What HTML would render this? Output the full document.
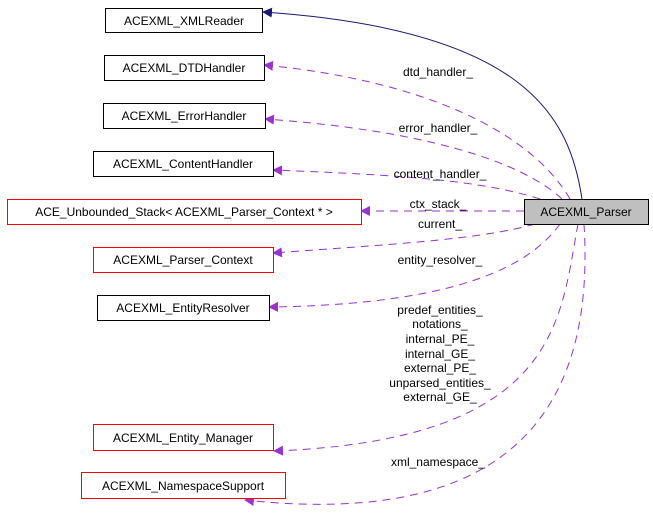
<!DOCTYPE html>
<html><head><meta charset="utf-8"><style>
html,body{margin:0;padding:0;background:#fff;}
svg text{font-family:"Liberation Sans",sans-serif;font-size:12px;fill:#000;}
</style></head><body>
<svg width="653" height="527" viewBox="0 0 653 527" xmlns="http://www.w3.org/2000/svg">
<defs>
<marker id="p" markerWidth="10" markerHeight="10" refX="9" refY="5" orient="auto" markerUnits="userSpaceOnUse"><path d="M0,0 L10,5 L0,10 z" fill="#9a32cd"/></marker>
<marker id="n" markerWidth="10" markerHeight="10" refX="9" refY="5" orient="auto" markerUnits="userSpaceOnUse"><path d="M0,0 L10,5 L0,10 z" fill="#191970"/></marker>
</defs>
<g fill="none" stroke="#9a32cd" stroke-dasharray="8,6" stroke-width="1">
<path d="M570,199 C530,130 420,80 264,65" marker-end="url(#p)"/>
<path d="M562,199 C520,160 420,130 265,119" marker-end="url(#p)"/>
<path d="M540,199 C480,180 400,175 273,170" marker-end="url(#p)"/>
<path d="M524,211 L361,211" marker-end="url(#p)"/>
<path d="M535,224 C480,240 380,245 273,253" marker-end="url(#p)"/>
<path d="M560,224 C520,280 420,305 269,307" marker-end="url(#p)"/>
<path d="M578,224 C560,320 560,440 274,451" marker-end="url(#p)"/>
<path d="M584,224 C595,400 520,530 245,500" marker-end="url(#p)"/>
</g>
<path d="M582,199 C570,120 530,30 263,12" fill="none" stroke="#191970" marker-end="url(#n)"/>
<g stroke-width="1">
<rect x="105.5" y="8.5" width="157" height="24" fill="#fff" stroke="#000"/>
<rect x="104.5" y="55.5" width="160" height="25" fill="#fff" stroke="#000"/>
<rect x="103.5" y="103.5" width="162" height="25" fill="#fff" stroke="#000"/>
<rect x="93.5" y="151.5" width="180" height="25" fill="#fff" stroke="#000"/>
<rect x="7.5" y="199.5" width="354" height="25" fill="#fff" stroke="#f00"/>
<rect x="524.5" y="199.5" width="124" height="25" fill="#bfbfbf" stroke="#000"/>
<rect x="93.5" y="247.5" width="180" height="25" fill="#fff" stroke="#f00"/>
<rect x="97.5" y="295.5" width="172" height="25" fill="#fff" stroke="#000"/>
<rect x="93.5" y="424.5" width="180" height="26" fill="#fff" stroke="#f00"/>
<rect x="81.5" y="472.5" width="204" height="26" fill="#fff" stroke="#f00"/>
</g>
<g text-anchor="middle">
<text x="184" y="25">ACEXML_XMLReader</text>
<text x="184" y="72">ACEXML_DTDHandler</text>
<text x="184" y="120">ACEXML_ErrorHandler</text>
<text x="183" y="168">ACEXML_ContentHandler</text>
<text x="184" y="216">ACE_Unbounded_Stack&lt; ACEXML_Parser_Context * &gt;</text>
<text x="586" y="216">ACEXML_Parser</text>
<text x="183" y="264">ACEXML_Parser_Context</text>
<text x="183" y="312">ACEXML_EntityResolver</text>
<text x="183" y="442">ACEXML_Entity_Manager</text>
<text x="183" y="490">ACEXML_NamespaceSupport</text>
<text x="438" y="76">dtd_handler_</text>
<text x="438" y="132">error_handler_</text>
<text x="440" y="178">content_handler_</text>
<text x="438" y="208">ctx_stack_</text>
<text x="440" y="228">current_</text>
<text x="440" y="264">entity_resolver_</text>
<text x="440" y="314">predef_entities_</text>
<text x="440" y="328">notations_</text>
<text x="440" y="343">internal_PE_</text>
<text x="440" y="358">internal_GE_</text>
<text x="440" y="372">external_PE_</text>
<text x="440" y="387">unparsed_entities_</text>
<text x="440" y="401">external_GE_</text>
<text x="438" y="466">xml_namespace_</text>
</g>
</svg>
</body></html>
